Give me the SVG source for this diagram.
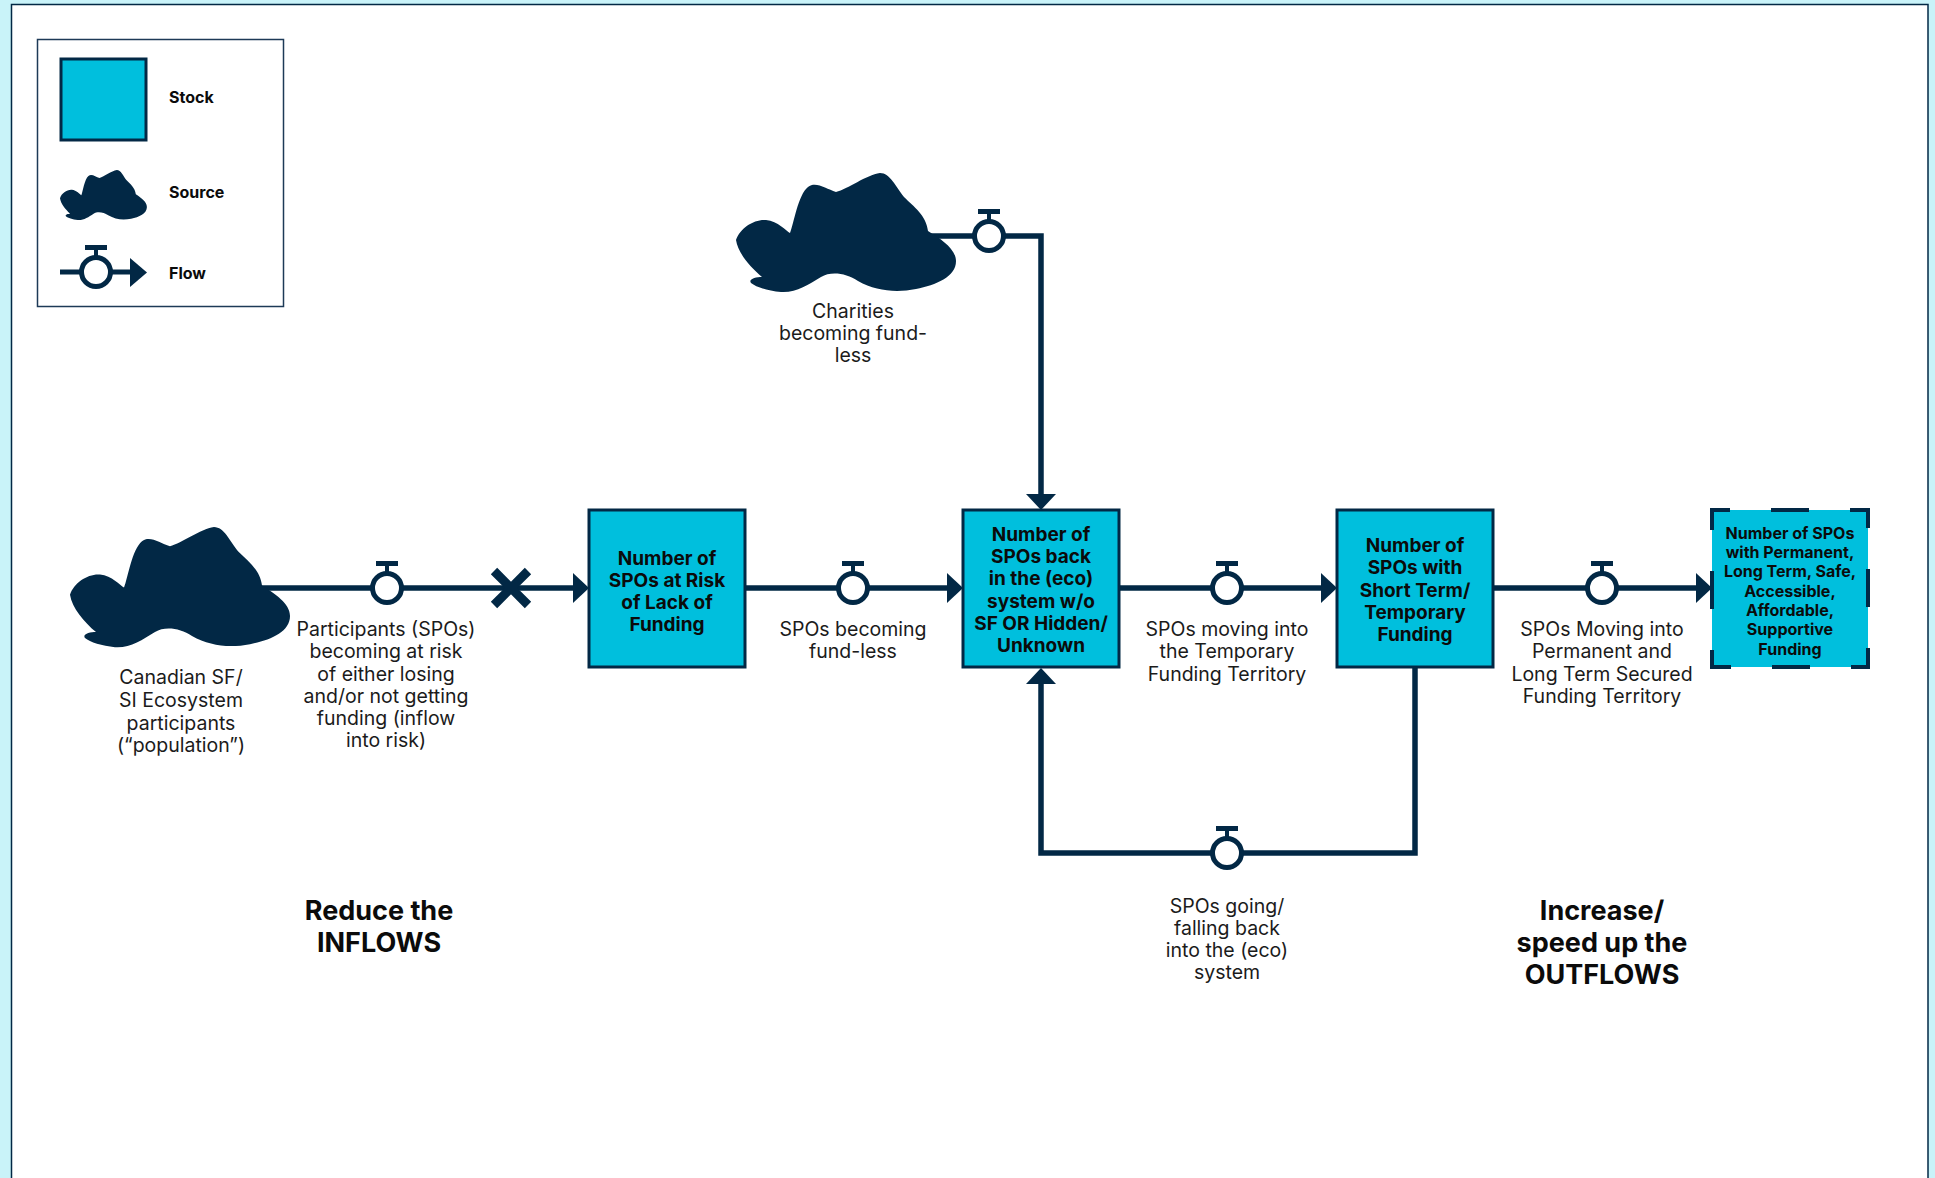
<svg xmlns="http://www.w3.org/2000/svg" xmlns:xlink="http://www.w3.org/1999/xlink" width="1935" height="1178" viewBox="0 0 1935 1178">
  <style>
    .conn { fill: none; stroke: #022845; stroke-width: 5.5; stroke-linejoin: miter; }
    .stock { fill: #00BFDD; stroke: #022845; stroke-width: 3; }
    .cloud { fill: #022845; }
    .lbl { font-family: Inter, "Noto Sans", "Liberation Sans", sans-serif; font-size: 19.5px; fill: #1b1b1b; text-anchor: middle; }
    .stk { font-family: Inter, "Noto Sans", "Liberation Sans", sans-serif; font-weight: 700; font-size: 19px; fill: #0b0b0b; text-anchor: middle; }
    .stk-sm { font-size: 16px; }
    .head { font-family: Inter, "Noto Sans", "Liberation Sans", sans-serif; font-weight: 700; font-size: 27px; fill: #0b0b0b; text-anchor: middle; }
    .leg { font-family: Inter, "Noto Sans", "Liberation Sans", sans-serif; font-weight: 700; font-size: 16px; fill: #0b0b0b; }
  </style>
  <defs>
    <!-- blob shape used for sources/sinks, local box 220 x 120 -->
    <path id="cloud" class="cloud" d="M0,67 C4,55 18,46 30,47 C42,48 50,58 54,60 C58,50 62,22 72,14 C80,8 90,16 100,19 C112,16 130,2 144,0 C154,0 160,14 168,24 C178,34 190,42 192,58 C205,66 220,76 220,88 C220,104 200,112 180,116 C160,120 140,118 122,108 C110,100 95,98 85,104 C72,112 60,120 45,119 C32,118 20,114 15,110 C12,106 20,104 26,104 C14,94 2,80 0,67 Z"/>
    <!-- flow valve centred on the pipe -->
    <g id="valve">
      <line x1="0" y1="-16" x2="0" y2="-24" stroke="#022845" stroke-width="4"/>
      <rect x="-11" y="-27" width="22" height="5" fill="#022845"/>
      <circle cx="0" cy="0" r="14.5" fill="#ffffff" stroke="#022845" stroke-width="5"/>
    </g>
    <marker id="arrow" markerUnits="userSpaceOnUse" markerWidth="17" markerHeight="30" refX="0" refY="15" orient="auto">
      <path d="M0,0 L16,15 L0,30 Z" fill="#022845"/>
    </marker>
  </defs>

  <!-- page background and panel -->
  <rect x="0" y="0" width="1935" height="1178" fill="#C9F3F9"/>
  <rect x="11.5" y="4.5" width="1916.5" height="1200" fill="#ffffff" stroke="#022845" stroke-width="1.5"/>

  <!-- legend -->
  <g id="legend">
    <rect x="37.5" y="39.5" width="246" height="267" fill="#ffffff" stroke="#1d3a57" stroke-width="1.5"/>
    <rect x="61" y="59" width="85" height="81" class="stock"/>
    <text x="169" y="103" class="leg">Stock</text>
    <use href="#cloud" transform="translate(60,170) scale(0.395,0.42)"/>
    <text x="169" y="198" class="leg">Source</text>
    <line x1="60" y1="272" x2="131" y2="272" class="conn" style="stroke-width:5"/>
    <path d="M130,258 L147,272.5 L130,287 Z" fill="#022845"/>
    <use href="#valve" x="96" y="272"/>
    <text x="169" y="279" class="leg">Flow</text>
  </g>

  <!-- connectors: pipes, valves, arrowheads -->
  <g id="connectors">
    <path class="conn" d="M250,588 H573" marker-end="url(#arrow)"/>
    <path class="conn" d="M745,588 H947" marker-end="url(#arrow)"/>
    <path class="conn" d="M1119,588 H1321" marker-end="url(#arrow)"/>
    <path class="conn" d="M1493,588 H1696" marker-end="url(#arrow)"/>
    <path class="conn" d="M900,236 H1041 V494" marker-end="url(#arrow)"/>
    <path class="conn" d="M1415,668 V853 H1041 V684" marker-end="url(#arrow)"/>
    <!-- blocked inflow -->
    <path d="M494,571 L528,605 M528,571 L494,605" stroke="#022845" stroke-width="9" fill="none"/>
    <use href="#valve" x="387" y="588"/>
    <use href="#valve" x="853" y="588"/>
    <use href="#valve" x="1227" y="588"/>
    <use href="#valve" x="1602" y="588"/>
    <use href="#valve" x="989" y="236"/>
    <use href="#valve" x="1227" y="853"/>
  </g>

  <!-- flow labels -->
  <g id="flow-labels" class="lbl">
    <text x="386" y="636">Participants (SPOs)</text>
    <text x="386" y="658">becoming at risk</text>
    <text x="386" y="681">of either losing</text>
    <text x="386" y="703">and/or not getting</text>
    <text x="386" y="725">funding (inflow</text>
    <text x="386" y="747">into risk)</text>

    <text x="853" y="636">SPOs becoming</text>
    <text x="853" y="658">fund-less</text>

    <text x="1227" y="636">SPOs moving into</text>
    <text x="1227" y="658">the Temporary</text>
    <text x="1227" y="681">Funding Territory</text>

    <text x="1602" y="636">SPOs Moving into</text>
    <text x="1602" y="658">Permanent and</text>
    <text x="1602" y="681">Long Term Secured</text>
    <text x="1602" y="703">Funding Territory</text>

    <text x="1227" y="913">SPOs going/</text>
    <text x="1227" y="935">falling back</text>
    <text x="1227" y="957">into the (eco)</text>
    <text x="1227" y="979">system</text>
  </g>

  <!-- sources -->
  <g id="source-population">
    <use href="#cloud" transform="translate(70,527) scale(1,1.01)"/>
    <text class="lbl" x="181" y="684">Canadian SF/</text>
    <text class="lbl" x="181" y="707">SI Ecosystem</text>
    <text class="lbl" x="181" y="730">participants</text>
    <text class="lbl" x="181" y="752">(“population”)</text>
  </g>

  <g id="source-charities">
    <use href="#cloud" transform="translate(736,173)"/>
    <text class="lbl" x="853" y="318">Charities</text>
    <text class="lbl" x="853" y="340">becoming fund-</text>
    <text class="lbl" x="853" y="362">less</text>
  </g>

  <!-- stocks -->
  <g id="stock-at-risk">
    <rect x="589" y="510" width="156" height="157" class="stock"/>
    <text class="stk" x="667" y="565">Number of</text>
    <text class="stk" x="667" y="587">SPOs at Risk</text>
    <text class="stk" x="667" y="609">of Lack of</text>
    <text class="stk" x="667" y="631">Funding</text>
  </g>

  <g id="stock-back-in-eco">
    <rect x="963" y="510" width="156" height="157" class="stock"/>
    <text class="stk" x="1041" y="541">Number of</text>
    <text class="stk" x="1041" y="563">SPOs back</text>
    <text class="stk" x="1041" y="585">in the (eco)</text>
    <text class="stk" x="1041" y="608">system w/o</text>
    <text class="stk" x="1041" y="630">SF OR Hidden/</text>
    <text class="stk" x="1041" y="652">Unknown</text>
  </g>

  <g id="stock-short-term">
    <rect x="1337" y="510" width="156" height="157" class="stock"/>
    <text class="stk" x="1415" y="552">Number of</text>
    <text class="stk" x="1415" y="574">SPOs with</text>
    <text class="stk" x="1415" y="597">Short Term/</text>
    <text class="stk" x="1415" y="619">Temporary</text>
    <text class="stk" x="1415" y="641">Funding</text>
  </g>

  <g id="stock-permanent">
    <rect x="1712" y="510" width="156" height="157" fill="#00BFDD"/>
    <rect x="1712" y="510" width="156" height="157" fill="none" stroke="#022845" stroke-width="4" stroke-dasharray="36 41 38 41" stroke-dashoffset="18"/>
    <text class="stk stk-sm" x="1790" y="539">Number of SPOs</text>
    <text class="stk stk-sm" x="1790" y="558">with Permanent,</text>
    <text class="stk stk-sm" x="1790" y="577">Long Term, Safe,</text>
    <text class="stk stk-sm" x="1790" y="597">Accessible,</text>
    <text class="stk stk-sm" x="1790" y="616">Affordable,</text>
    <text class="stk stk-sm" x="1790" y="635">Supportive</text>
    <text class="stk stk-sm" x="1790" y="655">Funding</text>
  </g>

  <!-- policy headings -->
  <g id="heading-inflows" class="head">
    <text x="379" y="920">Reduce the</text>
    <text x="379" y="952">INFLOWS</text>
  </g>
  <g id="heading-outflows" class="head">
    <text x="1602" y="920">Increase/</text>
    <text x="1602" y="952">speed up the</text>
    <text x="1602" y="984">OUTFLOWS</text>
  </g>
</svg>
